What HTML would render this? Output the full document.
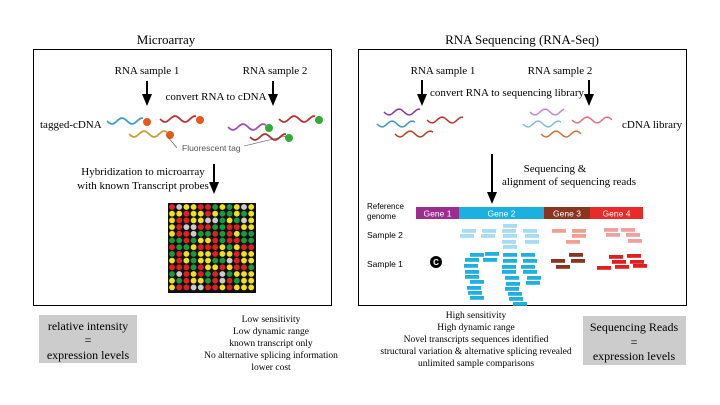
<!DOCTYPE html>
<html><head><meta charset="utf-8"><style>
body{margin:0;background:#fff;}
svg{display:block;font-family:"Liberation Serif",serif;}
.s{font-family:"Liberation Sans",sans-serif;}
</style></head><body>
<svg id="fig" width="720" height="405" viewBox="0 0 720 405">
<defs><marker id="ah" markerWidth="10" markerHeight="12" refX="5" refY="2" orient="0" markerUnits="userSpaceOnUse"><path d="M0,0 L10,0 L5,12Z" fill="#000"/></marker></defs>
<rect width="720" height="405" fill="#fff"/>
<!-- Left panel -->
<text x="166" y="44" font-size="13" text-anchor="middle">Microarray</text>
<rect x="33.5" y="49.5" width="298" height="256" fill="none" stroke="#000" stroke-width="1"/>
<text x="147" y="74" font-size="11" text-anchor="middle">RNA sample 1</text>
<text x="275" y="74" font-size="11" text-anchor="middle">RNA sample 2</text>
<g stroke="#000" stroke-width="2">
<line x1="147" y1="81" x2="147" y2="96" marker-end="url(#ah)"/>
<line x1="273" y1="81" x2="273" y2="96" marker-end="url(#ah)"/>
<line x1="214" y1="164" x2="214" y2="184" marker-end="url(#ah)"/>
</g>
<text x="216" y="100" font-size="11" text-anchor="middle">convert RNA to cDNA</text>
<text x="40" y="128" font-size="11">tagged-cDNA</text>
<g id="wavesL" fill="none" stroke-width="1.8"></g>
<text x="182" y="151" font-size="8.5" fill="#555" class="s">Fluorescent tag</text>
<line x1="177" y1="148" x2="168" y2="137" stroke="#555" stroke-width="0.6"/>
<line x1="244" y1="146" x2="286" y2="136" stroke="#555" stroke-width="0.6"/>
<text x="143" y="175" font-size="11" text-anchor="middle">Hybridization to microarray</text>
<text x="143" y="189" font-size="11" text-anchor="middle">with known Transcript probes</text>
<rect x="168" y="203" width="88" height="90" fill="#111"/>
<g id="dots"></g>
<!-- Right panel -->
<text x="522" y="44" font-size="13" text-anchor="middle">RNA Sequencing (RNA-Seq)</text>
<rect x="358.5" y="49.5" width="328" height="256" fill="none" stroke="#000" stroke-width="1"/>
<text x="443" y="74" font-size="11" text-anchor="middle">RNA sample 1</text>
<text x="560" y="74" font-size="11" text-anchor="middle">RNA sample 2</text>
<g stroke="#000" stroke-width="2">
<line x1="422" y1="80" x2="422" y2="96" marker-end="url(#ah)"/>
<line x1="589" y1="80" x2="589" y2="96" marker-end="url(#ah)"/>
<line x1="492" y1="154" x2="492" y2="194" marker-end="url(#ah)"/>
</g>
<text x="507" y="96" font-size="11" text-anchor="middle">convert RNA to sequencing library</text>
<text x="622" y="128" font-size="11">cDNA library</text>
<g id="wavesR" fill="none" stroke-width="1.5"></g>
<text x="555" y="172" font-size="11" text-anchor="middle">Sequencing &amp;</text>
<text x="569" y="185" font-size="11" text-anchor="middle">alignment of  sequencing reads</text>
<text x="367" y="209" font-size="8" class="s">Reference</text>
<text x="367" y="219" font-size="8" class="s">genome</text>
<text x="367" y="238" font-size="8.5" class="s">Sample 2</text>
<text x="367" y="267" font-size="8.5" class="s">Sample 1</text>
<circle cx="436" cy="262" r="6" fill="#000"/><text x="436" y="265" font-size="8" fill="#fff" text-anchor="middle" class="s" font-weight="bold">C</text>
<g id="genes"></g>
<g id="reads"></g>
<!-- Bottom -->
<rect x="39" y="315" width="98" height="48" fill="#ccc"/>
<text x="88" y="330" font-size="12" text-anchor="middle">relative intensity</text>
<text x="88" y="344" font-size="12" text-anchor="middle">=</text>
<text x="88" y="359" font-size="12" text-anchor="middle">expression levels</text>
<g font-size="9.5" text-anchor="middle">
<text x="271" y="322">Low sensitivity</text>
<text x="271" y="334">Low dynamic range</text>
<text x="271" y="346">known transcript only</text>
<text x="271" y="358">No alternative splicing information</text>
<text x="271" y="370">lower cost</text>
</g>
<g font-size="9.5" text-anchor="middle">
<text x="476" y="318">High sensitivity</text>
<text x="476" y="330">High dynamic range</text>
<text x="476" y="342">Novel transcripts sequences identified</text>
<text x="476" y="354">structural variation &amp; alternative splicing revealed</text>
<text x="476" y="366">unlimited sample comparisons</text>
</g>
<rect x="583" y="316" width="103" height="49" fill="#ccc"/>
<text x="634" y="331" font-size="12" text-anchor="middle">Sequencing Reads</text>
<text x="634" y="346" font-size="12" text-anchor="middle">=</text>
<text x="634" y="360" font-size="12" text-anchor="middle">expression levels</text>
</svg>
<script>
const NS="http://www.w3.org/2000/svg";
function mk(t,a,p){const e=document.createElementNS(NS,t);for(const k in a)e.setAttribute(k,a[k]);p.appendChild(e);return e;}
function wave(x,y,w,c,p){let d="M"+x+","+y;for(let i=0;i<=w;i+=2)d+=" L"+(x+i)+","+(y+3*Math.sin(i/3.2)).toFixed(1);mk("path",{d:d,stroke:c},p);}
const wl=document.getElementById("wavesL");
[[107,121,37,"#3aa0d0","#e35a1a"],[160,119,37,"#b33","#e35a1a"],[129,134,38,"#c9a040","#e35a1a"],[228,127,38,"#a050b0","#3a3"],[279,119,37,"#b33","#3a3"],[250,137,36,"#a33","#3a3"]].forEach(w=>{wave(w[0],w[1],w[2],w[3],wl);mk("circle",{cx:w[0]+w[2]+3,cy:w[1]+1,r:4,fill:w[4]},wl);});
const wr=document.getElementById("wavesR");
[[384,112,36,"#8a3a9a"],[377,124,38,"#3a9ab8"],[427,120,36,"#c03030"],[395,134,38,"#b84020"],[530,112,34,"#c08ac8"],[523,124,38,"#80c0d0"],[572,120,40,"#e07080"],[541,134,40,"#d07040"]].forEach(w=>wave(w[0],w[1],w[2],w[3],wr));
// microarray dots
const rows=["RWYYRRGYGYWY","YYRYYRYGGYGY","YRRYYWWGYGWY","YRWWRRGGRRYY","YRRWGGRGRYGG","GGRGYYRGRRGG","RGGYRRRYGYRR","GRYGYYRYYRYY","YRYGYYGGWRYY","RRRGRYYRYRRG","GWRYRGRWGYYY","YGRYYGRWRGYY","YRRWWRRYRYYY"];
const col={R:"#e02020",Y:"#f0e020",G:"#1a9a3a",W:"#cccccc"};
const dg=document.getElementById("dots");
rows.forEach((r,j)=>{for(let i=0;i<r.length;i++){const c=mk("circle",{cx:172+i*7.2,cy:207+j*6.7,r:2.9,fill:col[r[i]]},dg);

}});
// genes
const geneNames=["Gene 1","Gene 2","Gene 3","Gene 4"];
const geneStart=[416,459,544,590],geneEnd=[459,544,590,643];
const geneColors=["#9b2d8e","#1ab0e0","#8a3520","#e82a2a"];
const gg=document.getElementById("genes");
geneNames.forEach((n,i)=>{const r=mk("rect",{x:geneStart[i],y:207,width:geneEnd[i]-geneStart[i],height:12,fill:geneColors[i]},gg);


const t=mk("text",{x:(geneStart[i]+geneEnd[i])/2,y:216.5,"font-size":8.5,fill:"#fff","text-anchor":"middle",class:"s"},gg);t.textContent=n;});
// reads [x,y,color]
const rg=document.getElementById("reads");
const reads=[[462,229,"#a8dcf2"],[482,229,"#a8dcf2"],[503,224,"#a8dcf2"],[502,229,"#a8dcf2"],[523,229,"#a8dcf2"],[460,234,"#a8dcf2"],[481,234,"#a8dcf2"],[503,234,"#a8dcf2"],[525,234,"#a8dcf2"],[502,240,"#a8dcf2"],[525,240,"#a8dcf2"],[503,245,"#a8dcf2"],
[552,229,"#f0a090"],[572,229,"#f0a090"],[572,234,"#f0a090"],[566,240,"#f0a090"],[604,228,"#f0a0a0"],[621,228,"#f0a0a0"],[606,233,"#f0a0a0"],[626,233,"#f0a0a0"],[628,239,"#f0a0a0"],
[470,253,"#20b0e0"],[485,252,"#20b0e0"],[503,253,"#20b0e0"],[521,253,"#20b0e0"],[465,258,"#20b0e0"],[483,258,"#20b0e0"],[503,259,"#20b0e0"],[523,259,"#20b0e0"],[464,264,"#20b0e0"],[502,265,"#20b0e0"],[521,265,"#20b0e0"],[465,270,"#20b0e0"],[502,270,"#20b0e0"],[523,270,"#20b0e0"],[465,275,"#20b0e0"],[505,276,"#20b0e0"],[527,276,"#20b0e0"],[470,280,"#20b0e0"],[526,281,"#20b0e0"],[467,286,"#20b0e0"],[506,282,"#20b0e0"],[505,287,"#20b0e0"],[468,291,"#20b0e0"],[508,292,"#20b0e0"],[470,296,"#20b0e0"],[509,297,"#20b0e0"],[513,302,"#20b0e0"],
[569,253,"#8a3520"],[551,259,"#8a3520"],[571,259,"#8a3520"],[556,265,"#8a3520"],[609,255,"#e02020"],[627,254,"#e02020"],[612,260,"#e02020"],[630,260,"#e02020"],[597,266,"#e02020"],[615,265,"#e02020"],[633,264,"#e02020"]];
reads.forEach(r=>{const e=mk("rect",{x:r[0],y:r[1],width:14,height:3.8,fill:r[2]},rg);

});
</script>
</body></html>
